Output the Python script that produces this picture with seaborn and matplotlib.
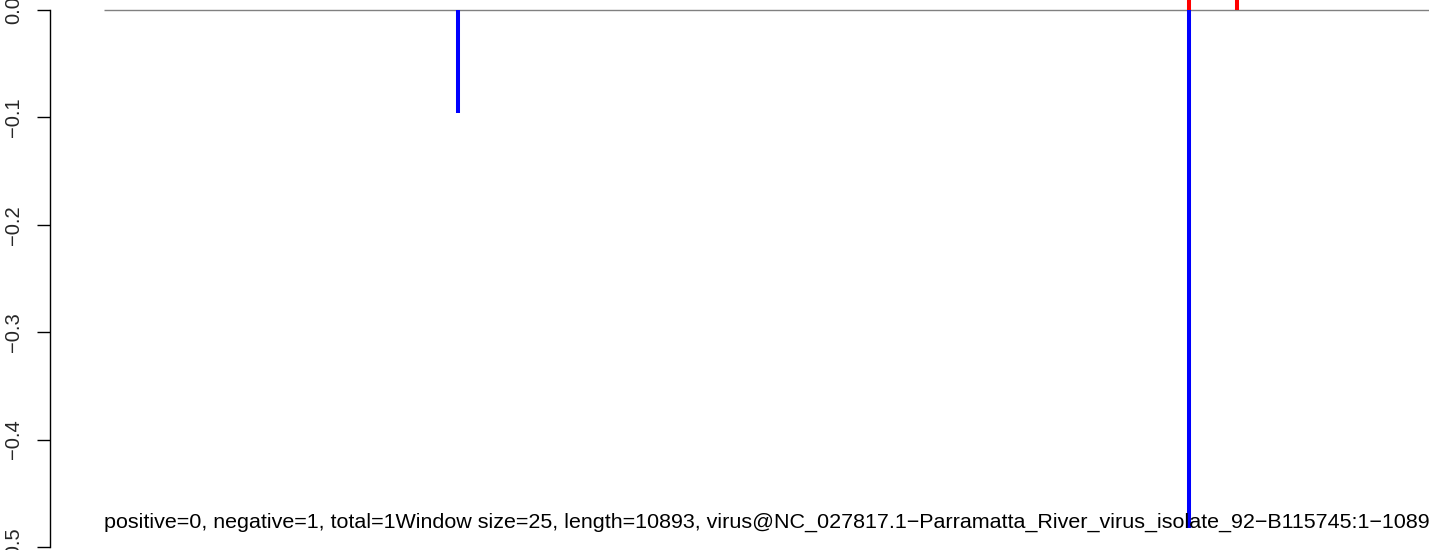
import matplotlib
matplotlib.use("Agg")
import matplotlib.pyplot as plt
import seaborn as sns
import numpy as np

# Genome window scores along the sequence
genome_length = 10893
neg_positions = [2860, 8765]
neg_scores = [-0.096, -0.482]
pos_positions = [8765, 9145]
pos_scores = [0.35, 0.25]
ytick_values = [0.0, -0.1, -0.2, -0.3, -0.4, -0.5]
caption = ("positive=0, negative=1, total=1Window size=25, length=10893, "
           "virus@NC_027817.1\u2212Parramatta_River_virus_isolate_92\u2212B115745:1\u221210893")

sns.set_theme(style="white")
plt.rcParams["font.family"] = ["Liberation Sans", "DejaVu Sans"]

W, H = 1429, 550
fig = plt.figure(figsize=(W / 100, H / 100), dpi=100)
ax = fig.add_axes([50 / W, 0, 1457 / W, 1])

pad = 0.04 * (genome_length - 1)
ax.set_xlim(1 - pad, genome_length + pad)
ax.set_ylim(-0.5028, 0.0093)

# baseline at zero
ax.hlines(0, 1, genome_length, color="#808080", lw=1.0, zorder=1)
# negative windows
ax.vlines(neg_positions, 0, neg_scores, color="#0000ff", lw=2.9, zorder=3)
# positive windows
ax.vlines(pos_positions, 0, pos_scores, color="#ff0000", lw=2.9, zorder=2)

ax.text(1, -0.4823, caption, fontsize=15.45, ha="left", va="baseline", color="black")

for s in ["top", "right", "bottom"]:
    ax.spines[s].set_visible(False)
ax.spines["left"].set_color("black")
ax.spines["left"].set_linewidth(1.0)
ax.spines["left"].set_bounds(-0.5, 0.0)
ax.set_xticks([])
ax.set_yticks(ytick_values)
ax.set_yticklabels([f"{v:.1f}".replace("-", "\u2212") for v in ytick_values],
                   rotation=90, va="center", fontsize=14.5)
ax.tick_params(axis="y", direction="out", length=9.4, width=1.0, color="black",
               left=True, pad=10)
ax.patch.set_alpha(0)

fig.savefig("out.png", dpi=100)
